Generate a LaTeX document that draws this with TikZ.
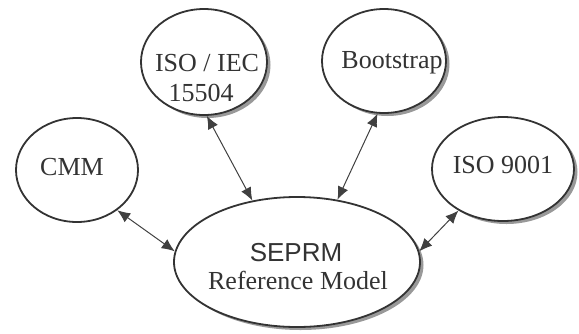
\documentclass[tikz,border=0pt]{standalone}
\usepackage{fontspec}
\setmainfont{Liberation Serif}
\newfontfamily\headfont{Liberation Sans}
\usetikzlibrary{shapes.geometric,arrows.meta,shadows}

\tikzset{
  modelbox/.style={ellipse, draw=black!80, line width=1.8pt, fill=white,
    inner sep=0pt, minimum width=#1},
  shadowed/.style={drop shadow={shadow xshift=3.5pt, shadow yshift=-3pt,
    fill=black!50, opacity=0.8}},
  caption/.style={inner sep=0pt, text=black!80,
    font=\fontsize{26}{28}\selectfont},
  link/.style={draw=black!75, line width=1pt,
    {Latex[length=13pt,width=11pt]}-{Latex[length=13pt,width=11pt]}},
}

\begin{document}
\begin{tikzpicture}[x=1pt,y=-1pt]
  \useasboundingbox (0,0) rectangle (579,333);

  % outer models
  \node[modelbox=122pt, minimum height=104pt] (cmm) at (77,170) {};
  \node[modelbox=126pt, minimum height=106pt, shadowed] (iso) at (204,62) {};
  \node[modelbox=124pt, minimum height=104pt, shadowed] (boot) at (384,61) {};
  \node[modelbox=142pt, minimum height=104pt, shadowed] (iso9) at (503,169) {};
  % central reference model
  \node[modelbox=246pt, minimum height=130pt, shadowed] (seprm) at (297,262) {};

  % labels
  \node[caption] (cmmtxt) at (72,167) {CMM};
  \node[caption] (isotxta) at (207,63) {ISO / IEC};
  \node[caption] (isotxtb) at (201,93) {15504};
  \node[caption] (boottxt) at (392,63) {Bootstrap};
  \node[caption] (iso9txt) at (503,165) {ISO 9001};
  \node[caption, font=\headfont\fontsize{26}{28}\selectfont] (seprmtxta) at (296,253) {SEPRM};
  \node[caption] (seprmtxtb) at (298,280) {Reference Model};

  % two-way links
  \draw[link] (cmm.-45) -- (seprm.175);
  \draw[link] (iso.-87) -- (seprm.126);
  \draw[link] (boot.-97) -- (seprm.57);
  \draw[link] (iso9.223) -- (seprm.5);
\end{tikzpicture}
\end{document}
